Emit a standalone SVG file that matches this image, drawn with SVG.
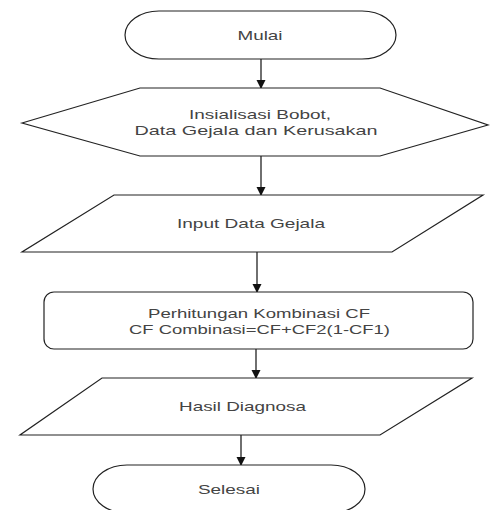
<svg xmlns="http://www.w3.org/2000/svg" width="490" height="510" viewBox="0 0 490 510">
<defs>
<style>
.shape{fill:#fff;stroke:#222;stroke-width:1.2}
.t{font-family:"Liberation Sans",Arial,sans-serif;font-size:13px;fill:#444;text-anchor:middle}
.c{stroke:#222;stroke-width:1.3;fill:none;marker-end:url(#ah)}
</style>
<marker id="ah" markerWidth="10" markerHeight="10" refX="8" refY="4.5" orient="auto" markerUnits="userSpaceOnUse">
<path d="M0,0 L9,4.5 L0,9 Z" fill="#111"/>
</marker>
</defs>
<rect width="490" height="510" fill="#fff"/>
<g id="connectors">
<line class="c" x1="261" y1="59" x2="261" y2="88"/>
<line class="c" x1="261" y1="156" x2="261" y2="195"/>
<line class="c" x1="257" y1="252" x2="257" y2="292"/>
<line class="c" x1="256" y1="349" x2="256" y2="378"/>
<line class="c" x1="241" y1="435" x2="241" y2="465"/>
</g>
<g id="mulai">
<rect class="shape" x="125" y="11" width="271" height="48" rx="34" ry="24"/>
<text class="t" x="260" y="40" textLength="45" lengthAdjust="spacingAndGlyphs">Mulai</text>
</g>
<g id="inisialisasi">
<polygon class="shape" points="22,123 140,88 380,88 488,125 380,156 140,156"/>
<text class="t" x="260" y="119" textLength="142" lengthAdjust="spacingAndGlyphs">Insialisasi Bobot,</text>
<text class="t" x="256" y="135" textLength="243" lengthAdjust="spacingAndGlyphs">Data Gejala dan Kerusakan</text>
</g>
<g id="input">
<polygon class="shape" points="114,195 483,195 392,252 22,252"/>
<text class="t" x="251" y="228" textLength="148" lengthAdjust="spacingAndGlyphs">Input Data Gejala</text>
</g>
<g id="perhitungan">
<rect class="shape" x="44" y="292" width="429" height="57" rx="10" ry="10"/>
<text class="t" x="259" y="318" textLength="222" lengthAdjust="spacingAndGlyphs">Perhitungan Kombinasi CF</text>
<text class="t" x="259.5" y="334" textLength="261" lengthAdjust="spacingAndGlyphs">CF Combinasi=CF+CF2(1-CF1)</text>
</g>
<g id="hasil">
<polygon class="shape" points="102,378 472,378 380,435 20,435"/>
<text class="t" x="242.5" y="411" textLength="127" lengthAdjust="spacingAndGlyphs">Hasil Diagnosa</text>
</g>
<g id="selesai">
<rect class="shape" x="93" y="465" width="272" height="48" rx="34" ry="24"/>
<text class="t" x="229" y="494" textLength="62" lengthAdjust="spacingAndGlyphs">Selesai</text>
</g>
</svg>
